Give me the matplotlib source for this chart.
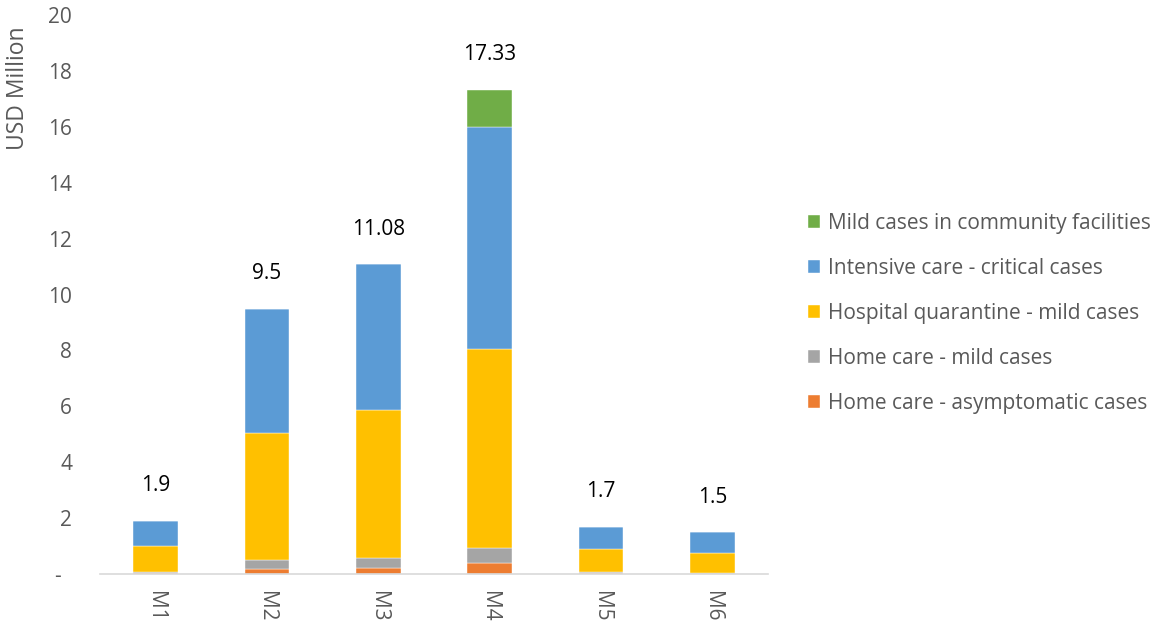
import matplotlib.pyplot as plt
import numpy as np

# Data
models = ['M1', 'M2', 'M3', 'M4', 'M5', 'M6']
home_asym = [0.02, 0.19, 0.23, 0.38, 0.02, 0.01]
home_mild = [0.07, 0.31, 0.35, 0.56, 0.05, 0.04]
hosp_mild = [0.93, 4.54, 5.29, 7.11, 0.81, 0.70]
icu_critical = [0.88, 4.46, 5.21, 7.95, 0.82, 0.75]
community_mild = [0.0, 0.0, 0.0, 1.33, 0.0, 0.0]
total_labels = ['1.9', '9.5', '11.08', '17.33', '1.7', '1.5']

series = [
    ('Home care - asymptomatic cases', home_asym, '#ED7D31'),
    ('Home care - mild cases', home_mild, '#A5A5A5'),
    ('Hospital quarantine - mild cases', hosp_mild, '#FFC000'),
    ('Intensive care - critical cases', icu_critical, '#5B9BD5'),
    ('Mild cases in community facilities', community_mild, '#70AD47'),
]

plt.rcParams['font.family'] = ['Open Sans', 'DejaVu Sans']
txt = '#595959'
fs = 15

fig = plt.figure(figsize=(11.62, 6.26), dpi=100)
ax = fig.add_axes([0.086, 0.083, 0.575, 0.893])

x = np.arange(len(models))
bottom = np.zeros(len(models))
handles = []
for name, vals, col in series:
    v = np.array(vals)
    b = ax.bar(x, v, 0.4, bottom=bottom, color=col, edgecolor='white',
               linewidth=0.3, label=name)
    handles.append(b)
    bottom += v

# total labels above bars
for xi, tot, lab in zip(x, bottom, total_labels):
    ax.text(xi, tot + 1.25, lab, ha='center', va='center', fontsize=fs, color='black')

ax.set_xlim(-0.5, len(models) - 0.5)
ax.set_ylim(0, 20)
ax.set_yticks(np.arange(0, 21, 2))
ax.set_yticklabels(['-  '] + [str(v) for v in range(2, 21, 2)])
ax.set_xticks(x)
ax.set_xticklabels(models, rotation=270)
ax.tick_params(axis='both', length=0, colors=txt, labelsize=fs)
ax.tick_params(axis='y', pad=20)
ax.tick_params(axis='x', pad=12)

for s in ['top', 'right', 'left']:
    ax.spines[s].set_visible(False)
ax.spines['bottom'].set_color('#D9D9D9')
ax.spines['bottom'].set_linewidth(1.2)

fig.text(18 / 1162, 1 - 88 / 626, 'USD Million', rotation=90, ha='center',
         va='center', fontsize=16.5, color=txt)

ax.legend(handles[::-1], [s[0] for s in series][::-1], loc='center left',
          bbox_to_anchor=(1.031, 0.466), frameon=False, fontsize=fs,
          labelcolor=txt, handlelength=0.6, handleheight=0.6,
          handletextpad=0.4, labelspacing=1.15)

plt.savefig('out.png', dpi=100)
